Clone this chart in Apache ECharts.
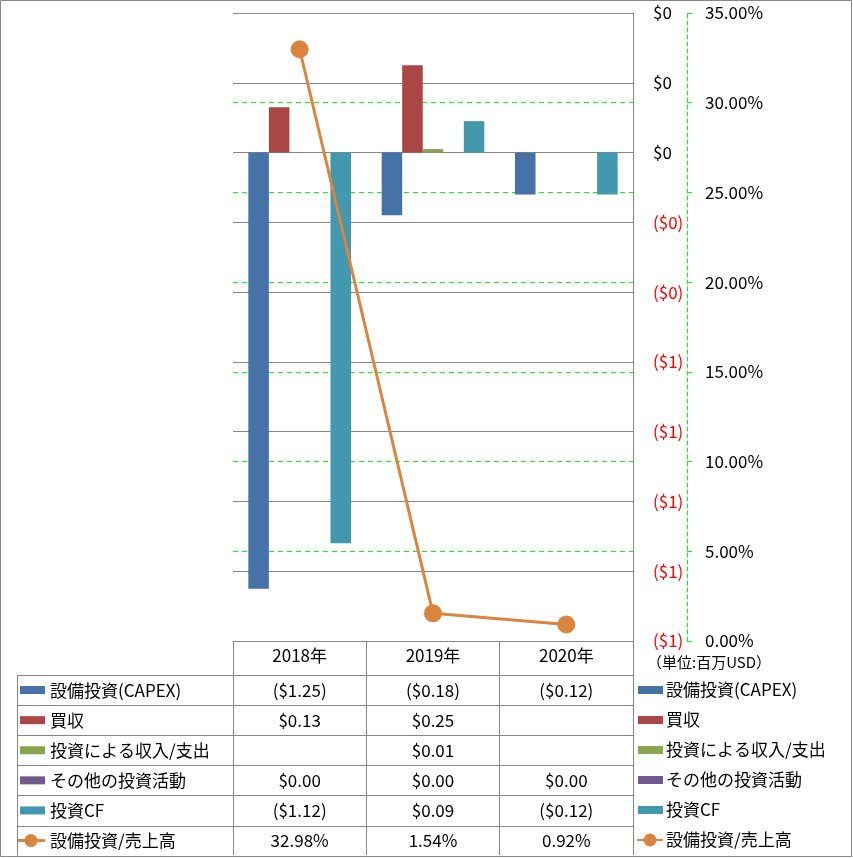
<!DOCTYPE html>
<html>
<head>
<meta charset="utf-8">
<script src="https://cdn.jsdelivr.net/npm/echarts@6/dist/echarts.min.js"></script>
<style>
  html, body { margin: 0; padding: 0; background: #fff; }
  #main { width: 853px; height: 858px; }
</style>
</head>
<body>
<div id="main"></div>
<script>
// data (単位: 百万USD)
var years = ['2018年', '2019年', '2020年'];
var seriesNames = ['設備投資(CAPEX)', '買収', '投資による収入/支出', 'その他の投資活動', '投資CF', '設備投資/売上高'];
var capex = [-1.25, -0.18, -0.12];
var acquisition = [0.13, 0.25, null];
var investIncome = [null, 0.01, null];
var otherInvest = [0.00, 0.00, 0.00];
var investCF = [-1.12, 0.09, -0.12];
var capexRatio = [32.98, 1.54, 0.92];

var colors = ['#4572A7', '#AA4643', '#89A54E', '#71588F', '#4198AF', '#DB843D'];
var font = "'Noto Sans CJK JP', sans-serif";
var gray = '#868686';
var fs = 17;

function money(v) {
    if (v === null || v === undefined) return '';
    var s = '$' + Math.abs(v).toFixed(2);
    return v < 0 ? '(' + s + ')' : s;
}
function pct(v) {
    return v.toFixed(2) + '%';
}

var myChart = echarts.init(document.getElementById('main'));

// table graphics
var gridLeft = 233, gridRight = 633, axisY = 641;
var rowTop = 675, rowH = 30.1;
var colW = (gridRight - gridLeft) / years.length;
var tableRows = [capex, acquisition, investIncome, otherInvest, investCF, capexRatio];
var graphics = [];

graphics.push({
    type: 'rect', shape: { x: 0.5, y: 0.5, width: 851, height: 856 },
    style: { fill: null, stroke: gray, lineWidth: 1 }, silent: true
});
// horizontal rules
for (var r = 0; r <= tableRows.length; r++) {
    var yy = Math.round(rowTop + r * rowH) + 0.5;
    graphics.push({
        type: 'line', shape: { x1: 17, y1: yy, x2: gridRight, y2: yy },
        style: { stroke: gray, lineWidth: 1 }, silent: true
    });
}
graphics.push({
    type: 'line', shape: { x1: 17.5, y1: rowTop, x2: 17.5, y2: rowTop + tableRows.length * rowH },
    style: { stroke: gray, lineWidth: 1 }, silent: true
});

tableRows.forEach(function (row, i) {
    var cy = rowTop + i * rowH + rowH / 2;
    if (i === 5) {
        graphics.push({ type: 'line', shape: { x1: 18, y1: cy, x2: 45, y2: cy }, style: { stroke: colors[i], lineWidth: 3 }, silent: true });
        graphics.push({ type: 'circle', shape: { cx: 31, cy: cy, r: 6.5 }, style: { fill: colors[i] }, silent: true });
    } else {
        graphics.push({ type: 'rect', shape: { x: 20, y: cy - 4, width: 25, height: 8 }, style: { fill: colors[i] }, silent: true });
    }
    graphics.push({
        type: 'text', x: 50, y: cy,
        style: { text: seriesNames[i], font: fs + 'px ' + font, fill: '#000', verticalAlign: 'middle', align: 'left' },
        silent: true
    });
    row.forEach(function (v, j) {
        graphics.push({
            type: 'text', x: gridLeft + colW * (j + 0.5), y: cy,
            style: { text: i === 5 ? pct(v) : money(v), font: fs + 'px ' + font, fill: '#000', verticalAlign: 'middle', align: 'center' },
            silent: true
        });
    });
});

graphics.push({
    type: 'text', x: 709, y: 662,
    style: { text: '（単位:百万USD）', font: '15px ' + font, fill: '#000', verticalAlign: 'middle', align: 'center' },
    silent: true
});

// thin bar key inside a 26x16 legend box (tiny corner marks fix the box)
var barIcon = 'path://M0,0L0.01,0L0,0.01Z M26,16L25.99,16L26,15.99Z M1,4L26,4L26,12L1,12Z';

function barSeries(i, data) {
    return {
        name: seriesNames[i],
        type: 'bar',
        yAxisIndex: 0,
        barGap: 0,
        barCategoryGap: '23%',
        itemStyle: { color: colors[i] },
        data: data
    };
}

option = {
    animation: false,
    backgroundColor: '#fff',
    textStyle: { fontFamily: font },
    grid: {
        left: gridLeft,
        right: 853 - gridRight,
        top: 13,
        bottom: 858 - axisY
    },
    legend: {
        orient: 'vertical',
        left: 636,
        top: rowTop,
        itemWidth: 26,
        itemHeight: 16,
        itemGap: 0,
        padding: 0,
        textStyle: { fontSize: fs, color: '#000', lineHeight: 30, fontFamily: font, padding: [0, 0, 0, -2] },
        data: seriesNames.map(function (n, i) {
            return i < 5 ? { name: n, icon: barIcon } : { name: n };
        })
    },
    xAxis: {
        type: 'category',
        data: years,
        axisLine: { onZero: false, lineStyle: { color: gray } },
        axisTick: { show: true, alignWithLabel: false, interval: 0, length: 214, lineStyle: { color: gray } },
        axisLabel: { fontSize: fs, color: '#000', margin: 6, fontFamily: font }
    },
    yAxis: [
        {
            type: 'value',
            position: 'right',
            min: -1.4,
            max: 0.4,
            interval: 0.2,
            axisLine: { show: true, lineStyle: { color: gray } },
            axisTick: { show: false },
            splitLine: { show: true, lineStyle: { color: gray, width: 1 } },
            axisLabel: {
                margin: 20,
                fontSize: fs,
                fontFamily: font,
                color: '#000',
                formatter: function (v) {
                    var n = Math.round(Math.abs(v) + 1e-9);
                    if (v < -1e-9) return '{neg|($' + n + ')}';
                    return '$' + n;
                },
                rich: { neg: { color: '#FF0000', fontSize: fs, fontFamily: font } }
            }
        },
        {
            type: 'value',
            position: 'right',
            offset: 54,
            min: 0,
            max: 35,
            interval: 5,
            axisLine: { show: true, lineStyle: { color: '#00FF00', type: [4, 3], width: 1 } },
            axisTick: { show: true, length: 5, lineStyle: { color: '#00FF00' } },
            splitLine: { show: true, showMinLine: false, showMaxLine: false, lineStyle: { color: '#00FF00', type: [5, 4], width: 1 } },
            axisLabel: {
                margin: 18,
                fontSize: fs,
                fontFamily: font,
                color: '#000',
                formatter: function (v) { return v.toFixed(2) + '%'; }
            }
        }
    ],
    series: [
        barSeries(0, capex),
        barSeries(1, acquisition),
        barSeries(2, investIncome),
        barSeries(3, otherInvest),
        barSeries(4, investCF),
        {
            name: seriesNames[5],
            type: 'line',
            yAxisIndex: 1,
            symbol: 'circle',
            symbolSize: 18,
            lineStyle: { color: colors[5], width: 3 },
            itemStyle: { color: colors[5] },
            data: capexRatio,
            z: 5
        }
    ],
    graphic: graphics
};
myChart.setOption(option);
</script>
</body>
</html>
